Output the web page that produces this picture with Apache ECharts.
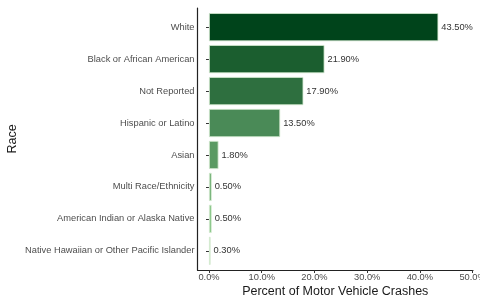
<!DOCTYPE html>
<html>
<head>
<meta charset="utf-8">
<script src="https://cdn.jsdelivr.net/npm/echarts@6/dist/echarts.min.js"></script>
<style>
  html, body { margin: 0; padding: 0; background: #fff; }
  #chart { width: 480px; height: 299px; }
</style>
</head>
<body>
<div id="chart"></div>
<script>
const races = [
  'White',
  'Black or African American',
  'Not Reported',
  'Hispanic or Latino',
  'Asian',
  'Multi Race/Ethnicity',
  'American Indian or Alaska Native',
  'Native Hawaiian or Other Pacific Islander'
];
const percents = [43.5, 21.9, 17.9, 13.5, 1.8, 0.5, 0.5, 0.3];
const barColors = ['#00441b', '#1b5e2f', '#2e6f3f', '#4a8a57', '#5a9a62', '#64a868', '#7cc07b', '#b3dfac'];
const xTicks = [0, 10, 20, 30, 40, 50];

const chart = echarts.init(document.getElementById('chart'), null, { renderer: 'canvas' });

const fontFam = 'Liberation Sans, Arial, sans-serif';
const greyText = { color: '#4d4d4d', fontSize: 9.3, fontFamily: fontFam };
const titleText = { color: '#1a1a1a', fontSize: 12.5, fontFamily: fontFam };

const option = {
  backgroundColor: '#fff',
  animation: false,
  grid: [
    // panel frame (axis lines + titles)
    { left: 197.5, right: 7, top: 8, bottom: 29, outerBoundsMode: 'none', containLabel: false },
    // bars
    { left: 209, right: 7.4, top: 11.2, bottom: 32.2, outerBoundsMode: 'none', containLabel: false }
  ],
  xAxis: [
    {
      gridIndex: 0,
      type: 'value',
      min: -2.19,
      max: 50.2,
      name: 'Percent of Motor Vehicle Crashes',
      nameLocation: 'middle',
      nameGap: 15,
      nameTextStyle: titleText,
      axisLine: { show: true, onZero: false, lineStyle: { color: '#222', width: 1.2 } },
      axisTick: { show: false },
      axisLabel: { show: false },
      splitLine: { show: false }
    },
    {
      gridIndex: 1,
      type: 'value',
      min: xTicks[0],
      max: xTicks[xTicks.length - 1],
      interval: 10,
      offset: 3.2,
      axisLine: { show: false },
      axisTick: { show: true, length: 3, lineStyle: { color: '#333' } },
      axisLabel: Object.assign({ margin: 3, formatter: v => v.toFixed(1) + '%' }, greyText),
      splitLine: { show: false }
    }
  ],
  yAxis: [
    {
      gridIndex: 0,
      type: 'value',
      min: 0,
      max: 1,
      name: 'Race',
      nameLocation: 'middle',
      nameRotate: 90,
      nameGap: 178,
      nameTextStyle: titleText,
      axisLine: { show: true, onZero: false, lineStyle: { color: '#222', width: 1.2 } },
      axisTick: { show: false },
      axisLabel: { show: false },
      splitLine: { show: false }
    },
    {
      gridIndex: 1,
      type: 'category',
      inverse: true,
      data: races,
      offset: 11.5,
      axisLine: { show: false },
      axisTick: { show: true, alignWithLabel: true, length: 3, lineStyle: { color: '#333' } },
      axisLabel: Object.assign({ margin: 3 }, greyText)
    }
  ],
  series: [
    {
      type: 'bar',
      xAxisIndex: 1,
      yAxisIndex: 1,
      barWidth: '88%',
      data: percents.map((v, i) => ({
        value: v,
        itemStyle: { color: barColors[i], borderColor: '#d4ead0', borderWidth: 0.8 }
      })),
      label: {
        show: true,
        position: 'right',
        distance: 3,
        color: '#333',
        fontSize: 9.3,
        fontFamily: fontFam,
        formatter: p => p.value.toFixed(2) + '%'
      }
    }
  ]
};

chart.setOption(option);
</script>
</body>
</html>
